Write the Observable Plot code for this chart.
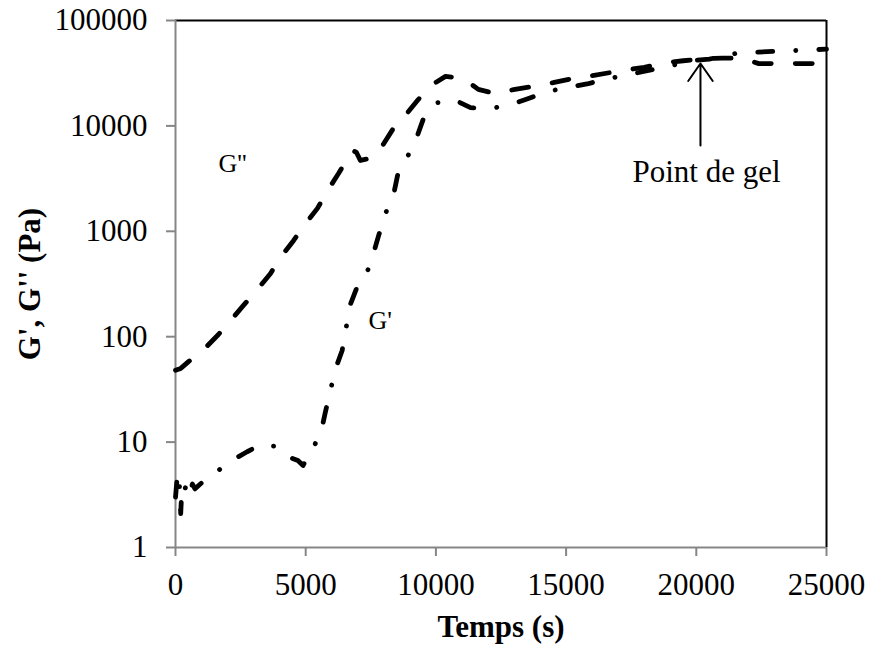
<!DOCTYPE html>
<html>
<head>
<meta charset="utf-8">
<script src="https://cdn.jsdelivr.net/npm/d3@7"></script>
<script src="https://cdn.jsdelivr.net/npm/@observablehq/plot@0.6"></script>
<style>
  html, body { margin: 0; padding: 0; background: white; }
</style>
</head>
<body>
<div id="chart"></div>
<script>
// ---- Data ----
const xTicks = [0, 5000, 10000, 15000, 20000, 25000];
const yTicks = [1, 10, 100, 1000, 10000, 100000];

// G' (storage modulus, dash-dot)
const gpTime = [0, 50, 100, 150, 200, 250, 350, 450, 550, 650, 750, 900, 1100, 1300, 1850, 2300, 2750, 3300, 3850, 4300, 4700, 4900, 5100, 5300, 5600, 5750, 5950, 6150, 6400, 6550, 6700, 6950, 7330, 7600, 7800, 8060, 8370, 8530, 8910, 9290, 9520, 10060, 10680, 11330, 12130, 12980, 13500, 14330, 15000, 15800, 16600, 17500, 18500, 19500, 20000, 20500, 21500, 22300, 23000, 23900, 25000];
const gpValue = [3.0, 4.2, 3.3, 4.0, 2.1, 3.8, 3.5, 4.2, 3.4, 4.0, 3.6, 3.9, 4.3, 4.6, 5.9, 7.0, 8.1, 9.5, 9.1, 7.3, 6.7, 6.0, 7.5, 8.9, 12.8, 19, 31, 50, 74, 120, 198, 286, 390, 615, 910, 1470, 2200, 3400, 5100, 8100, 11700, 16600, 17800, 14900, 14600, 16300, 18000, 21300, 23000, 25000, 28000, 31000, 35000, 39500, 42000, 43000, 48600, 50000, 51000, 52000, 53500];

// G'' (loss modulus, dashed)
const gppTime = [0, 200, 500, 1070, 1650, 2110, 2610, 3150, 3650, 4030, 4530, 4990, 5450, 5840, 6260, 6640, 6800, 6950, 7100, 7600, 8000, 8370, 8830, 9290, 9750, 10370, 11060, 11630, 12290, 12980, 13650, 14500, 15200, 16000, 17000, 18000, 18900, 19500, 20400, 21000, 21800, 22400, 23500, 24500, 25000];
const gppValue = [48, 50, 58, 75, 105, 142, 198, 282, 398, 565, 815, 1180, 1650, 2430, 3530, 5100, 5850, 5600, 4700, 5000, 6800, 9500, 12600, 17400, 23700, 29500, 28200, 22200, 20200, 22100, 23500, 25700, 28000, 30000, 33000, 36000, 40000, 41500, 43500, 44000, 43700, 39000, 39000, 39000, 40000];

// Annotations
const seriesLabels = ["G''", "G'"];
const seriesLabelTime = [1650, 7410];
const seriesLabelValue = [4400, 142];
const gelText = "Point de gel";
const gelTextTime = 20390;
const gelTextValue = 3610;
const gelArrowTime = 20160;
const gelArrowFrom = 6520;
const gelArrowTo = 39100;

const xTitle = "Temps (s)";
const yTitle = "G', G'' (Pa)";

// ---- Build rows ----
const gp = gpTime.map((t, i) => ({t, v: gpValue[i]}));
const gpp = gppTime.map((t, i) => ({t, v: gppValue[i]}));
const labels = seriesLabels.map((s, i) => ({s, t: seriesLabelTime[i], v: seriesLabelValue[i]}));

const gray = "#868686";
const font = "'Liberation Serif', 'Times New Roman', serif";

const chart = Plot.plot({
  width: 872,
  height: 648,
  marginLeft: 175,
  marginRight: 46,
  marginTop: 20,
  marginBottom: 101,
  style: {fontFamily: font, fontSize: "31px", background: "white", color: "black", overflow: "visible"},
  x: {domain: [0, 25000], label: null},
  y: {type: "log", domain: [1, 100000], label: null},
  marks: [
    // frame: top and right black, left and bottom gray
    Plot.ruleY([100000], {stroke: "black", strokeWidth: 2}),
    Plot.ruleX([25000], {stroke: "black", strokeWidth: 2}),
    Plot.ruleX([0], {stroke: gray, strokeWidth: 2}),
    Plot.ruleY([1], {stroke: gray, strokeWidth: 2}),
    Plot.axisX({ticks: xTicks, tickSize: 9, stroke: gray, strokeWidth: 2, tickFormat: () => "", label: null}),
    Plot.axisX({ticks: xTicks, tickSize: 0, tickPadding: 25, tickFormat: d => String(d), fill: "black", fontSize: 31, label: null}),
    Plot.axisY({ticks: yTicks, tickSize: 9, stroke: gray, strokeWidth: 2, tickFormat: () => "", label: null}),
    Plot.axisY({ticks: yTicks, tickSize: 0, tickPadding: 28, tickFormat: d => String(d), fill: "black", fontSize: 31, label: null}),
    // series
    Plot.line(gpp, {x: "t", y: "v", stroke: "black", strokeWidth: 4.8, strokeDasharray: "17,24", strokeLinecap: "round", strokeLinejoin: "round"}),
    Plot.line(gp, {x: "t", y: "v", stroke: "black", strokeWidth: 4.8, strokeDasharray: "15,23,0.1,23", strokeLinecap: "round", strokeLinejoin: "round"}),
    // series labels
    Plot.text(labels, {x: "t", y: "v", text: "s", textAnchor: "start", fontSize: 26, fill: "black"}),
    // gel point annotation
    Plot.arrow([0], {x1: () => gelArrowTime, x2: () => gelArrowTime, y1: () => gelArrowFrom, y2: () => gelArrowTo, stroke: "black", strokeWidth: 2, headLength: 16, headAngle: 70}),
    Plot.text([gelText], {x: () => gelTextTime, y: () => gelTextValue, text: d => d, fontSize: 31, fill: "black"}),
    // axis titles
    Plot.text([xTitle], {frameAnchor: "bottom", dy: 89, text: d => d, fontWeight: "bold", fontSize: 31, fill: "black"}),
    Plot.text([yTitle], {frameAnchor: "left", textAnchor: "middle", lineAnchor: "middle", dx: -145, dy: 0, rotate: -90, text: d => d, fontWeight: "bold", fontSize: 31, fill: "black"})
  ]
});

document.getElementById("chart").appendChild(chart);
</script>
</body>
</html>
